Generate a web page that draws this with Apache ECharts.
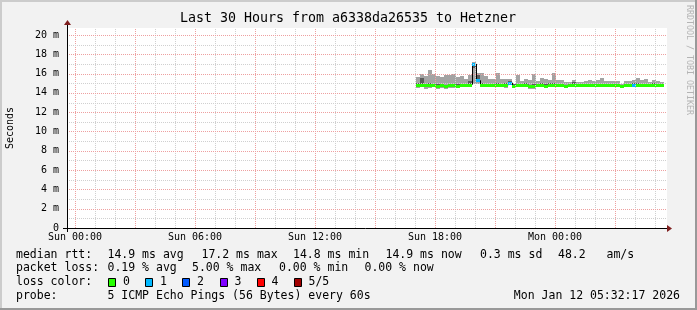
<!DOCTYPE html>
<html><head><meta charset="utf-8">
<script src="https://cdn.jsdelivr.net/npm/echarts@6/dist/echarts.min.js"></script>
<style>html,body{margin:0;padding:0;background:#f2f2f2}#c{width:697px;height:310px}</style>
</head><body><div id="c"></div>
<script>
// ---------------- data ----------------
const chartTitle = 'Last 30 Hours from a6338da26535 to Hetzner';
const yAxisName = 'Seconds';
// x in minutes from Sun 00:00
const xRange = [-24, 1776];
const yRange = [0, 20.72];
const xTickMinutes = [0, 360, 720, 1080, 1440];
const xTickLabels = ['Sun 00:00', 'Sun 06:00', 'Sun 12:00', 'Sun 18:00', 'Mon 00:00'];
const yTickValues = [0, 2, 4, 6, 8, 10, 12, 14, 16, 18, 20];
const yTickLabels = ['0', '2 m', '4 m', '6 m', '8 m', '10 m', '12 m', '14 m', '16 m', '18 m', '20 m'];
const firstSampleMinute = 1023;   // Sun 17:03
const sampleStepMinutes = 12;

// median RTT (ms), per 12-minute step
const medianRtt = [14.80,14.85,14.80,14.80,14.80,14.75,14.80,14.70,14.80,14.80,14.75,14.80,14.80,14.85,17.00,15.30,
  14.85,14.80,14.80,14.80,14.85,14.80,14.80,15.05,14.75,14.80,14.80,14.85,14.70,14.70,14.80,14.80,
  14.75,14.80,14.85,14.80,14.80,14.70,14.80,14.80,14.80,14.80,14.80,14.80,14.80,14.80,14.80,14.80,
  14.80,14.80,14.80,14.70,14.80,14.80,14.85,14.85,14.80,14.80,14.80,14.80,14.80,14.80];
// slowest ping (ms)
const pingMax = [15.65,15.95,15.70,16.40,15.95,15.75,15.60,15.85,15.80,15.95,15.60,15.75,15.45,15.80,17.20,16.10,
  16.05,15.70,15.40,15.40,16.10,15.45,15.45,15.40,14.95,15.80,15.20,15.45,15.30,16.00,15.20,15.55,
  15.45,15.35,16.10,15.30,15.30,15.10,15.15,15.30,15.10,15.10,15.20,15.35,15.20,15.30,15.55,15.20,
  15.20,15.20,15.20,14.95,15.20,15.20,15.35,15.55,15.35,15.45,15.10,15.35,15.20,15.10];
// fastest ping (ms)
const pingMin = [14.55,14.60,14.45,14.55,14.60,14.45,14.55,14.45,14.55,14.50,14.55,14.60,14.60,14.60,14.90,14.90,
  14.65,14.60,14.60,14.60,14.65,14.60,14.55,14.80,14.55,14.60,14.60,14.65,14.45,14.45,14.60,14.60,
  14.55,14.60,14.60,14.60,14.60,14.55,14.60,14.60,14.60,14.60,14.60,14.60,14.60,14.60,14.60,14.60,
  14.60,14.60,14.60,14.55,14.60,14.60,14.65,14.60,14.60,14.60,14.60,14.60,14.60,14.60];
// inner (2nd and 4th) pings (ms)
const pingInnerHigh = [15.00,15.50,14.95,15.00,14.95,14.90,14.95,14.85,14.95,14.95,14.90,14.95,14.95,15.20,17.10,15.90,
  15.00,14.95,14.95,14.95,15.00,14.95,15.00,15.20,14.90,14.95,14.95,15.00,14.85,14.90,14.95,15.00,
  14.95,15.00,15.05,14.95,14.95,14.85,14.95,15.10,14.95,14.95,14.95,14.95,14.95,14.95,14.95,14.95,
  14.95,14.95,14.95,14.85,14.95,14.95,15.00,15.00,14.95,14.95,14.95,15.05,14.95,14.95];
const pingInnerLow = [14.70,14.75,14.65,14.70,14.70,14.60,14.70,14.55,14.70,14.65,14.65,14.70,14.70,14.75,16.60,15.10,
  14.75,14.70,14.70,14.70,14.75,14.70,14.70,14.90,14.65,14.70,14.70,14.75,14.60,14.60,14.70,14.70,
  14.65,14.70,14.75,14.70,14.70,14.60,14.70,14.70,14.70,14.70,14.70,14.70,14.70,14.70,14.70,14.70,
  14.70,14.70,14.70,14.60,14.70,14.70,14.75,14.65,14.70,14.70,14.70,14.60,14.70,14.70];
// lost pings out of 5
const lostPings = [0,0,0,0,0,0,0,0,0,0,0,0,0,0,1,1, 0,0,0,0,0,0,0,1,0,0,0,0,0,0,0,0,
  0,0,0,0,0,0,0,0,0,0,0,0,0,0,0,0, 0,0,0,0,0,0,1,0,0,0,0,0,0,0];

const lossColorLabels = ['0', '1', '2', '3', '4', '5/5'];
const lossColors = ['#26ff00', '#00b8ff', '#0059ff', '#7e00ff', '#ff0000', '#a10000'];

const legendRows = [
  [['median rtt:', 16], ['14.9 ms avg', 107.5], ['17.2 ms max', 201.5], ['14.8 ms min', 293], ['14.9 ms now', 385.5], ['0.3 ms sd', 480], ['48.2', 558], ['am/s', 606.5]],
  [['packet loss:', 16], ['0.19 % avg', 107.5], ['5.00 % max', 192], ['0.00 % min', 279], ['0.00 % now', 364.5]],
  [['loss color:', 16]],
  [['probe:', 16], ['5 ICMP Echo Pings (56 Bytes) every 60s', 107.5]]
];
const timestampText = 'Mon Jan 12 05:32:17 2026';
const watermark = 'RRDTOOL / TOBI OETIKER';

// ---------------- chart ----------------
const MONO = 'DejaVu Sans Mono';
const GRID = {left: 67, top: 28, width: 600, height: 200};
const MAJ_COLOR = 'rgb(238,160,160)';
const MIN_COLOR = 'rgb(208,208,208)';

const gridData = [];
for (let m = 0; m < xRange[1]; m += 60) gridData.push([m, 1, m % 180 === 0 ? 1 : 0]);
for (let v = 1; v < yRange[1]; v += 1) gridData.push([v, 0, v % 2 === 0 ? 1 : 0]);

const smokeData = medianRtt.map((m, i) => {
  const t0 = firstSampleMinute + i * sampleStepMinutes;
  return [t0, t0 + sampleStepMinutes, pingMin[i], pingMax[i], pingInnerLow[i], pingInnerHigh[i], m, lostPings[i], i > 0 ? medianRtt[i - 1] : m];
});

function pxRect(api, t0, t1, v0, v1) {
  const a = api.coord([t0, v1]), b = api.coord([t1, v0]);
  const x = Math.round(a[0]), y = Math.round(a[1]);
  return {x: x, y: y, width: Math.round(b[0]) - x, height: Math.max(1, Math.round(b[1]) - y)};
}

const option = {
  animation: false,
  backgroundColor: '#f2f2f2',
  grid: Object.assign({show: true, backgroundColor: '#ffffff', borderWidth: 0}, GRID),
  xAxis: {
    type: 'value', min: xRange[0], max: xRange[1],
    axisLine: {show: false, onZero: false},
    axisTick: {show: false},
    splitLine: {show: false},
    axisLabel: {
      customValues: xTickMinutes,
      formatter: v => xTickLabels[xTickMinutes.indexOf(v)] || '',
      fontFamily: MONO, fontSize: 10, color: '#000', margin: 4
    }
  },
  yAxis: {
    type: 'value', min: yRange[0], max: yRange[1],
    axisLine: {show: false, onZero: false},
    axisTick: {show: false},
    splitLine: {show: false},
    axisLabel: {
      customValues: yTickValues,
      formatter: v => yTickLabels[yTickValues.indexOf(v)] || '',
      fontFamily: MONO, fontSize: 10, color: '#000', margin: 8
    }
  },
  series: [
    {
      type: 'custom', name: 'smoke', clip: false, z: 2,
      data: smokeData,
      encode: {x: 0, y: 6},
      renderItem: (params, api) => {
        const t0 = api.value(0), t1 = api.value(1);
        const lo = api.value(2), hi = api.value(3), ilo = api.value(4), ihi = api.value(5);
        const med = api.value(6), loss = api.value(7), prev = api.value(8);
        const children = [];
        children.push({type: 'rect', shape: pxRect(api, t0, t1, lo, hi), style: {fill: '#a3a3a3'}});
        children.push({type: 'rect', shape: pxRect(api, t0, t1, ilo, ihi), style: {fill: '#5c5c5c'}});
        const pm = api.coord([t0, med]);
        if (params.dataIndex > 0 && Math.abs(prev - med) > 0.05) {
          const pp = api.coord([t0, prev]);
          const xx = Math.round(pm[0]) + 0.5;
          children.push({type: 'line', shape: {x1: xx, y1: pp[1], x2: xx, y2: pm[1]}, style: {stroke: '#000', lineWidth: 1}});
        }
        const pe = api.coord([t1, med]);
        const x0 = Math.round(pm[0]), yc = Math.round(pm[1]);
        children.push({type: 'rect', shape: {x: x0, y: yc - 1, width: Math.round(pe[0]) - x0, height: 3}, style: {fill: lossColors[loss]}});
        return {type: 'group', children: children};
      }
    },
    {
      type: 'custom', name: 'grid', clip: false, z: 3, silent: true,
      data: gridData,
      encode: {x: 0, y: 0},
      renderItem: (params, api) => {
        const v = api.value(0), vert = api.value(1), major = api.value(2);
        let shape;
        if (vert) {
          const a = api.coord([v, yRange[0]]), b = api.coord([v, yRange[1]]);
          const x = Math.round(a[0]) + 0.5;
          shape = {x1: x, y1: a[1], x2: x, y2: b[1]};
        } else {
          const a = api.coord([xRange[0], v]), b = api.coord([xRange[1], v]);
          const y = Math.round(a[1]) + 0.5;
          shape = {x1: a[0], y1: y, x2: b[0], y2: y};
        }
        return {type: 'line', shape: shape, style: {stroke: major ? MAJ_COLOR : MIN_COLOR, lineWidth: 1, lineDash: [1, 1]}};
      }
    }
  ],
  graphic: []
};

const g = option.graphic;
// frame
g.push({type: 'rect', shape: {x: 0, y: 0, width: 697, height: 2}, style: {fill: '#cccccc'}, silent: true});
g.push({type: 'rect', shape: {x: 0, y: 0, width: 2, height: 310}, style: {fill: '#cccccc'}, silent: true});
g.push({type: 'rect', shape: {x: 0, y: 308, width: 697, height: 2}, style: {fill: '#999999'}, silent: true});
g.push({type: 'rect', shape: {x: 695, y: 0, width: 2, height: 310}, style: {fill: '#999999'}, silent: true});
// axis lines and arrows
g.push({type: 'line', shape: {x1: 63, y1: 228.5, x2: 668, y2: 228.5}, style: {stroke: '#000', lineWidth: 1}, z: 9});
g.push({type: 'line', shape: {x1: 67.5, y1: 232, x2: 67.5, y2: 24}, style: {stroke: '#000', lineWidth: 1}, z: 9});
g.push({type: 'polygon', shape: {points: [[667, 225], [672, 228.5], [667, 232]]}, style: {fill: '#7f1f1f'}, z: 10});
g.push({type: 'polygon', shape: {points: [[64, 25], [67.5, 20], [71, 25]]}, style: {fill: '#7f1f1f'}, z: 10});
// title
g.push({type: 'text', x: 348, y: 19, style: {text: chartTitle, font: '13.3px "DejaVu Sans Mono"', fill: '#000', align: 'center', verticalAlign: 'middle'}});
// y name
g.push({type: 'text', x: 10, y: 128, rotation: Math.PI / 2, style: {text: yAxisName, font: '10px "DejaVu Sans Mono"', fill: '#000', align: 'center', verticalAlign: 'middle'}});
// watermark
g.push({type: 'text', x: 689, y: 60, rotation: -Math.PI / 2, style: {text: watermark, font: '8.3px "DejaVu Sans Mono"', fill: '#b4b4b4', align: 'center', verticalAlign: 'middle'}});
// legend
const rowY = [255, 268.5, 282, 296];
legendRows.forEach((row, r) => row.forEach(([txt, x]) => {
  g.push({type: 'text', x: x, y: rowY[r], style: {text: txt, font: '11.5px "DejaVu Sans Mono"', fill: '#000', align: 'left', verticalAlign: 'middle'}});
}));
const boxX = [108, 145, 182, 219.5, 256.5, 293.5];
lossColorLabels.forEach((lab, i) => {
  g.push({type: 'rect', shape: {x: Math.round(boxX[i]) + 0.5, y: 278.5, width: 7, height: 8}, style: {fill: lossColors[i], stroke: '#000', lineWidth: 1}});
  g.push({type: 'text', x: boxX[i] + 15, y: rowY[2], style: {text: lab, font: '11.5px "DejaVu Sans Mono"', fill: '#000', align: 'left', verticalAlign: 'middle'}});
});
g.push({type: 'text', x: 680, y: rowY[3], style: {text: timestampText, font: '11.5px "DejaVu Sans Mono"', fill: '#000', align: 'right', verticalAlign: 'middle'}});

const chart = echarts.init(document.getElementById('c'), null, {renderer: 'canvas', width: 697, height: 310});
chart.setOption(option);
</script>
</body></html>
